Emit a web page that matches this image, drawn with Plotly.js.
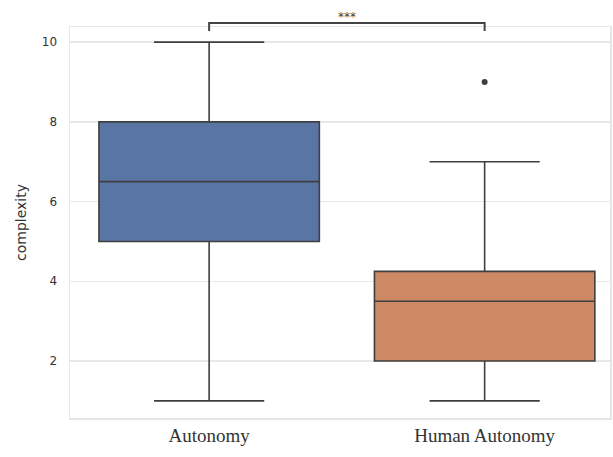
<!DOCTYPE html>
<html><head><meta charset="utf-8">
<script src="https://cdn.plot.ly/plotly-3.0.1.min.js"></script>
<style>body{margin:0;background:#fff}#c{width:613px;height:457px}</style>
</head><body><div id="c"></div>
<script>
const categories = ["Autonomy", "Human Autonomy"];
const q1 = [5, 2];
const median = [6.5, 3.5];
const q3 = [8, 4.25];
const lowerWhisker = [1, 1];
const upperWhisker = [10, 7];
const outlierCat = [1];
const outlierVal = [9];
const colors = ["#5875a4", "#cc8963"];
const yTicks = [2, 4, 6, 8, 10];

const traces = categories.map((c, i) => ({
  type: 'box', x: [i], q1: [q1[i]], median: [median[i]], q3: [q3[i]],
  lowerfence: [lowerWhisker[i]], upperfence: [upperWhisker[i]],
  width: 0.8, whiskerwidth: 0.5, fillcolor: colors[i],
  line: {color: '#3f3f3f', width: 1.6}, boxpoints: false, hoverinfo: 'skip', showlegend: false
}));
traces.push({type: 'scatter', mode: 'markers', x: outlierCat, y: outlierVal,
  marker: {color: '#3f3f3f', size: 6}, showlegend: false, hoverinfo: 'skip'});

const layout = {
  width: 613, height: 457,
  margin: {l: 70, r: 3, t: 27, b: 39},
  paper_bgcolor: '#fff', plot_bgcolor: '#fff',
  boxmode: 'overlay',
  xaxis: {range: [-0.505, 1.455], tickvals: [0, 1], ticktext: categories, showgrid: false, zeroline: false,
    showline: true, mirror: true, linecolor: '#e6e6e6', linewidth: 1.5, ticks: '',
    tickfont: {family: 'Liberation Serif', size: 19, color: '#333'}},
  yaxis: {range: [0.57, 10.38], tickvals: yTicks, showgrid: true, gridcolor: '#e8e8e8', gridwidth: 1.5,
    zeroline: false, showline: true, mirror: true, linecolor: '#e6e6e6', linewidth: 1.5, ticks: '',
    ticklabelstandoff: 9,
    tickfont: {family: 'DejaVu Sans', size: 12, color: '#333'},
    title: {text: 'complexity', font: {family: 'DejaVu Sans', size: 14, color: '#333'}, standoff: 12}},
  shapes: [
    {type: 'path', xref: 'x', yref: 'paper', path: 'M0,0.9898 L0,1.0102 L1,1.0102 L1,0.9898',
      line: {color: '#444', width: 2}}
  ],
  annotations: [
    {xref: 'x', yref: 'paper', x: 0.5, y: 1.049, text: '***', showarrow: false,
      font: {family: 'DejaVu Sans', size: 12, color: '#444'}}
  ]
};
Plotly.newPlot('c', traces, layout, {staticPlot: true});
</script></body></html>
